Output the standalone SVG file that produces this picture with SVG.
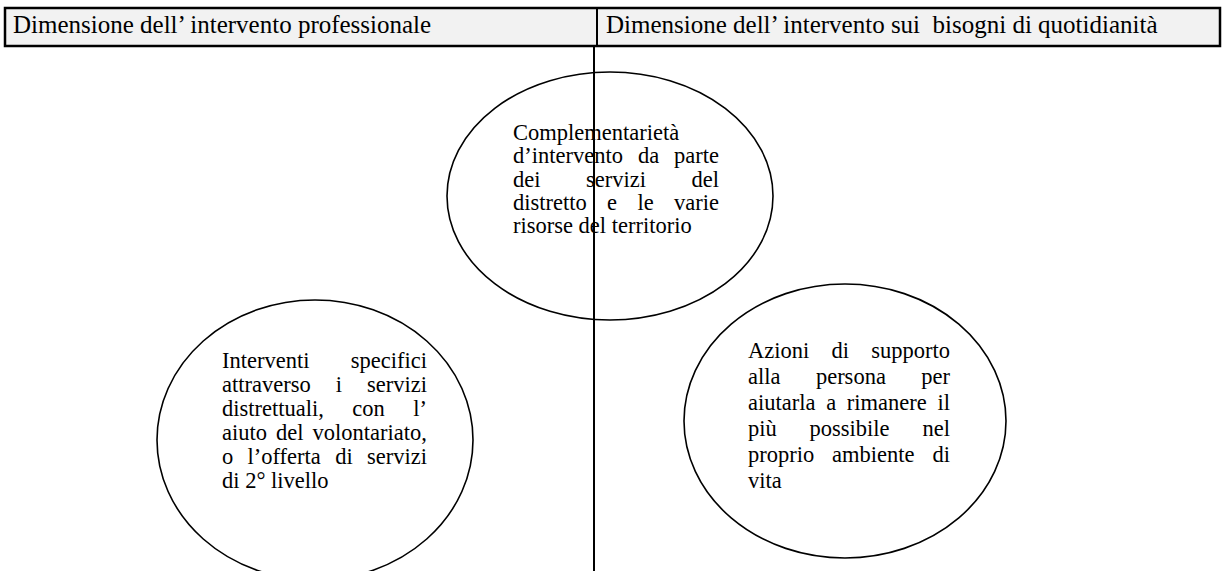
<svg xmlns="http://www.w3.org/2000/svg" width="1223" height="571" viewBox="0 0 1223 571">
<style>
.hdr{font-family:"Liberation Serif","Times New Roman",serif;font-size:25px;fill:#000}
.t{font-family:"Liberation Serif","Times New Roman",serif;font-size:22.5px;fill:#000}
.ell{fill:#fff;stroke:#000;stroke-width:1.6}
.ln{stroke:#000;stroke-width:2;fill:none}
</style>
<rect width="1223" height="571" fill="#fff"/>
<g id="header">
<rect x="5" y="8" width="1215" height="38" fill="#f2f2f2" stroke="#000" stroke-width="2.5"/>
<line x1="597" y1="8" x2="597" y2="46" stroke="#000" stroke-width="2"/>
<text class="hdr" x="13" y="33">Dimensione dell’ intervento professionale</text>
<text class="hdr" x="606" y="33" xml:space="preserve">Dimensione dell’ intervento sui  bisogni di quotidianità</text>
</g>
<g id="node-left">
<ellipse class="ell" cx="315" cy="440" rx="158" ry="140"/>
<text class="t" y="368"><tspan x="222">Interventi</tspan><tspan x="350.8">specifici</tspan></text>
<text class="t" y="392"><tspan x="222">attraverso</tspan><tspan x="335.7">i</tspan><tspan x="367">servizi</tspan></text>
<text class="t" y="416"><tspan x="222">distrettuali,</tspan><tspan x="352.3">con</tspan><tspan x="413.3">l’</tspan></text>
<text class="t" y="440"><tspan x="222">aiuto</tspan><tspan x="276">del</tspan><tspan x="312.6">volontariato,</tspan></text>
<text class="t" y="464"><tspan x="222">o</tspan><tspan x="247.4">l’offerta</tspan><tspan x="335.3">di</tspan><tspan x="367">servizi</tspan></text>
<text class="t" x="222" y="488">di 2° livello</text>
</g>
<g id="node-right">
<ellipse class="ell" cx="845" cy="421" rx="161" ry="137"/>
<text class="t" y="358"><tspan x="748">Azioni</tspan><tspan x="831.5">di</tspan><tspan x="871.3">supporto</tspan></text>
<text class="t" y="384"><tspan x="748">alla</tspan><tspan x="815.9">persona</tspan><tspan x="921.3">per</tspan></text>
<text class="t" y="410"><tspan x="748">aiutarla</tspan><tspan x="826.2">a</tspan><tspan x="846.8">rimanere</tspan><tspan x="937.5">il</tspan></text>
<text class="t" y="436"><tspan x="748">più</tspan><tspan x="809.6">possibile</tspan><tspan x="922.5">nel</tspan></text>
<text class="t" y="462"><tspan x="748">proprio</tspan><tspan x="832.1">ambiente</tspan><tspan x="932.5">di</tspan></text>
<text class="t" x="748" y="488">vita</text>
</g>
<g id="node-center">
<ellipse class="ell" cx="610" cy="196" rx="163" ry="124"/>
<text class="t" x="513" y="140">Complementarietà</text>
<text class="t" y="163.3"><tspan x="513">d’intervento</tspan><tspan x="637.9">da</tspan><tspan x="674">parte</tspan></text>
<text class="t" y="186.6"><tspan x="513">dei</tspan><tspan x="586">servizi</tspan><tspan x="691.5">del</tspan></text>
<text class="t" y="210"><tspan x="513">distretto</tspan><tspan x="607.1">e</tspan><tspan x="637.4">le</tspan><tspan x="674">varie</tspan></text>
<text class="t" x="513" y="233.3">risorse del territorio</text>
</g>
<g id="connectors">
<line class="ln" x1="594" y1="46" x2="594" y2="571"/>
</g>
</svg>
